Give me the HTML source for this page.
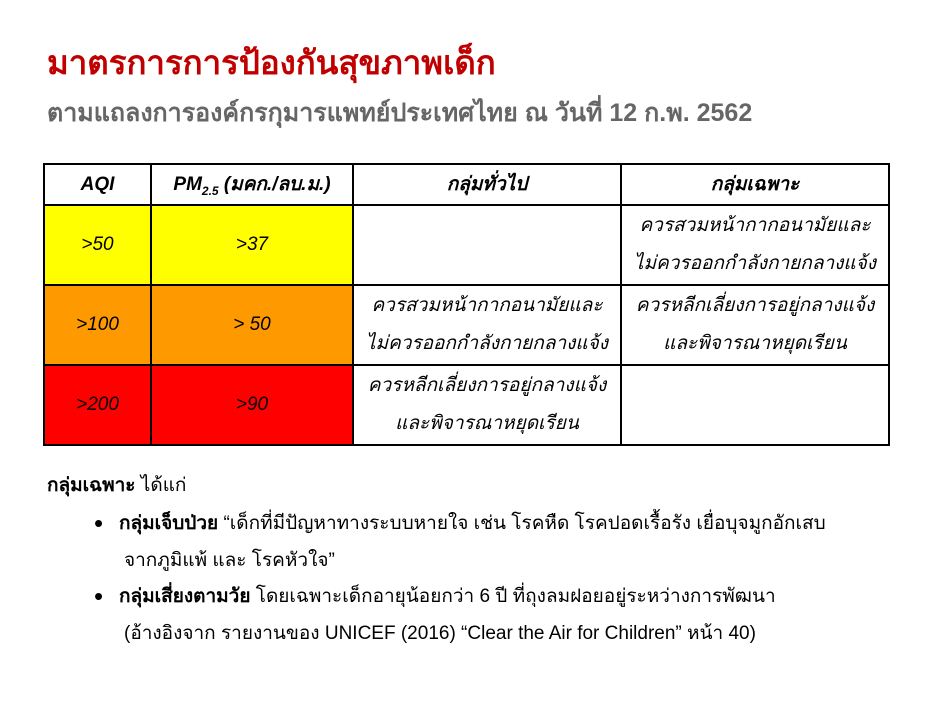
<!DOCTYPE html>
<html><head><meta charset="utf-8"><style>
body{margin:0;width:939px;height:704px;background:#fff;font-family:"Liberation Sans","Noto Sans CJK SC",sans-serif;position:relative;overflow:hidden}
.t{position:absolute;white-space:nowrap}
table{position:absolute;left:43px;top:163px;border-collapse:collapse;font-style:italic;font-size:19px;table-layout:fixed;width:845px}
td{border:2px solid #000;text-align:center;padding:0;line-height:38px;overflow:hidden}
.hd td{line-height:30px}
.dot{font-size:26px;vertical-align:-3px}
</style></head><body>
<div class="t" style="left:47px;top:36px;font-size:33px;font-weight:bold;color:#c00000">มาตรการการป้องกันสุขภาพเด็ก</div>
<div class="t" style="left:47px;top:93px;font-size:25px;font-weight:bold;color:#666">ตามแถลงการองค์กรกุมารแพทย์ประเทศไทย ณ วันที่ 12 ก.พ. 2562</div>
<table>
<colgroup><col style="width:107px"><col style="width:202px"><col style="width:268px"><col style="width:268px"></colgroup>
<tr class="hd" style="font-weight:bold"><td style="height:39px">AQI</td><td>PM<sub style="font-size:12px;line-height:0">2.5</sub> (มคก./ลบ.ม.)</td><td>กลุ่มทั่วไป</td><td>กลุ่มเฉพาะ</td></tr>
<tr><td style="background:#ffff00;height:78px">&gt;50</td><td style="background:#ffff00">&gt;37</td><td></td><td>ควรสวมหน้ากากอนามัยและ<br>ไม่ควรออกกำลังกายกลางแจ้ง</td></tr>
<tr><td style="background:#ff9900;height:78px">&gt;100</td><td style="background:#ff9900">&gt; 50</td><td>ควรสวมหน้ากากอนามัยและ<br>ไม่ควรออกกำลังกายกลางแจ้ง</td><td>ควรหลีกเลี่ยงการอยู่กลางแจ้ง<br>และพิจารณาหยุดเรียน</td></tr>
<tr><td style="background:#ff0000;height:78px">&gt;200</td><td style="background:#ff0000">&gt;90</td><td>ควรหลีกเลี่ยงการอยู่กลางแจ้ง<br>และพิจารณาหยุดเรียน</td><td></td></tr>
</table>
<div class="t" style="left:47px;top:470px;font-size:19px"><b>กลุ่มเฉพาะ</b> ได้แก่</div>
<div class="t" style="left:94px;top:505px;font-size:19px;line-height:37px"><span class="dot">•</span>&nbsp;&nbsp;&nbsp;<b>กลุ่มเจ็บป่วย</b> “เด็กที่มีปัญหาทางระบบหายใจ เช่น โรคหืด โรคปอดเรื้อรัง เยื่อบุจมูกอักเสบ<br><span style="padding-left:30px">จากภูมิแพ้ และ โรคหัวใจ”</span></div>
<div class="t" style="left:94px;top:578px;font-size:19px;line-height:37px"><span class="dot">•</span>&nbsp;&nbsp;&nbsp;<b>กลุ่มเสี่ยงตามวัย</b> โดยเฉพาะเด็กอายุน้อยกว่า 6 ปี ที่ถุงลมฝอยอยู่ระหว่างการพัฒนา<br><span style="padding-left:30px">(อ้างอิงจาก รายงานของ UNICEF (2016) “Clear the Air for Children” หน้า 40)</span></div>
</body></html>
